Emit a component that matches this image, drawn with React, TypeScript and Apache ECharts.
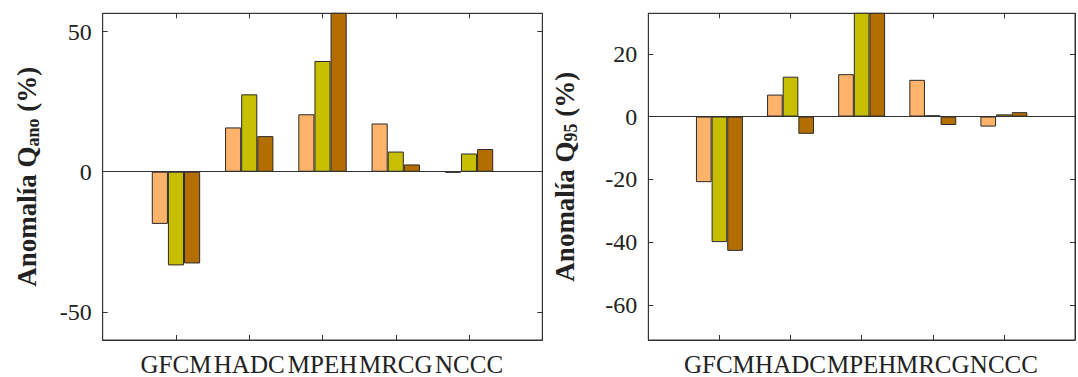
import React, { useEffect, useRef } from "react";
import * as echarts from "echarts";

const categories = ["", "GFCM", "HADC", "MPEH", "MRCG", "NCCC", ""];

// Left panel: Anomalía Q_ano (%)
const qanoSeries1 = [null, -18.6, 15.8, 20.5, 17.2, -0.3, null];
const qanoSeries2 = [null, -33.4, 27.6, 39.5, 7.2, 6.5, null];
const qanoSeries3 = [null, -32.7, 12.7, 65, 2.6, 8.1, null];

// Right panel: Anomalía Q95 (%)
const q95Series1 = [null, -20.9, 7.0, 13.5, 11.7, -3.2, null];
const q95Series2 = [null, -40.0, 12.7, 45, 0.4, 0.7, null];
const q95Series3 = [null, -42.8, -5.5, 40, -2.7, 1.4, null];

const leftTicks = [-50, 0, 50];
const rightTicks = [-60, -40, -20, 0, 20];

const colors = ["#FFB36B", "#C8BE00", "#B46E00"];
const FONT = "'Liberation Serif', 'Times New Roman', serif";
const INK = "#222";
const LINE = "#333";

export default function App() {
  const ref = useRef<HTMLDivElement>(null);
  useEffect(() => {
    if (!ref.current) return;
    const chart = echarts.init(ref.current, undefined, { renderer: "svg" });

    const grids = [
      { left: 102.7, top: 13.3, width: 439.6, height: 329 },
      { left: 648.3, top: 13.3, width: 439.6, height: 329 },
    ];
    const panels = [
      {
        min: -60, max: 56.5, ticks: leftTicks, sub: "ano", gap: 61,
        data: [qanoSeries1, qanoSeries2, qanoSeries3],
      },
      {
        min: -71.2, max: 32.9, ticks: rightTicks, sub: "95", gap: 68,
        data: [q95Series1, q95Series2, q95Series3],
      },
    ];

    const xAxis: any[] = [];
    const yAxis: any[] = [];
    const series: any[] = [];

    panels.forEach((p, i) => {
      xAxis.push({
        type: "category", gridIndex: i, data: categories, boundaryGap: false,
        axisLine: { onZero: false, lineStyle: { color: LINE, width: 1 } },
        axisTick: { inside: true, length: 5, interval: 0, lineStyle: { color: LINE } },
        axisLabel: { interval: 0, fontSize: 25, fontFamily: FONT, color: INK, margin: 12 },
        splitLine: { show: false },
      });
      xAxis.push({
        type: "category", gridIndex: i, data: categories, boundaryGap: false, position: "top",
        axisLine: { onZero: false, lineStyle: { color: LINE, width: 1 } },
        axisTick: { inside: true, length: 5, interval: 0, lineStyle: { color: LINE } },
        axisLabel: { show: false },
        splitLine: { show: false },
      });
      yAxis.push({
        type: "value", gridIndex: i, min: p.min, max: p.max, position: "left",
        axisLine: { show: true, onZero: false, lineStyle: { color: LINE, width: 1 } },
        axisTick: { show: true, inside: true, length: 5, customValues: p.ticks, lineStyle: { color: LINE } },
        axisLabel: { customValues: p.ticks, fontSize: 24, fontFamily: FONT, color: INK, margin: 11 },
        splitLine: { show: false },
        name: `{a|Anomalía Q}{s|${p.sub}}{a| (%)}`,
        nameLocation: "middle", nameRotate: 90, nameGap: p.gap,
        nameTextStyle: {
          rich: {
            a: { fontFamily: FONT, fontWeight: "bold", fontSize: 27, color: INK, lineHeight: 30 },
            s: { fontFamily: FONT, fontWeight: "bold", fontSize: 18, color: INK, lineHeight: 10, verticalAlign: "bottom" },
          },
        },
      });
      yAxis.push({
        type: "value", gridIndex: i, min: p.min, max: p.max, position: "right",
        axisLine: { show: true, onZero: false, lineStyle: { color: LINE, width: 1 } },
        axisTick: { show: true, inside: true, length: 5, customValues: p.ticks, lineStyle: { color: LINE } },
        axisLabel: { show: false },
        splitLine: { show: false },
      });
      p.data.forEach((d, k) => {
        series.push({
          type: "bar", xAxisIndex: i * 2, yAxisIndex: i * 2,
          data: d, barWidth: "22%", barGap: "0%", clip: true,
          itemStyle: { color: colors[k], borderColor: "#2a2a2a", borderWidth: 1 },
          ...(k === 0
            ? {
                markLine: {
                  silent: true, symbol: ["none", "none"], label: { show: false },
                  lineStyle: { color: LINE, type: "solid", width: 1 },
                  data: [{ yAxis: 0 }],
                },
              }
            : {}),
        });
      });
    });

    chart.setOption({
      animation: false,
      backgroundColor: "#fff",
      textStyle: { fontFamily: FONT },
      grid: grids.map((g) => ({ ...g, show: true, borderColor: LINE, borderWidth: 1, backgroundColor: "transparent" })),
      xAxis, yAxis, series,
    });
    return () => chart.dispose();
  }, []);
  return (
    <div
      ref={ref}
      style={{ position: "absolute", left: 0, top: 0, width: 1078, height: 377 }}
    />
  );
}
